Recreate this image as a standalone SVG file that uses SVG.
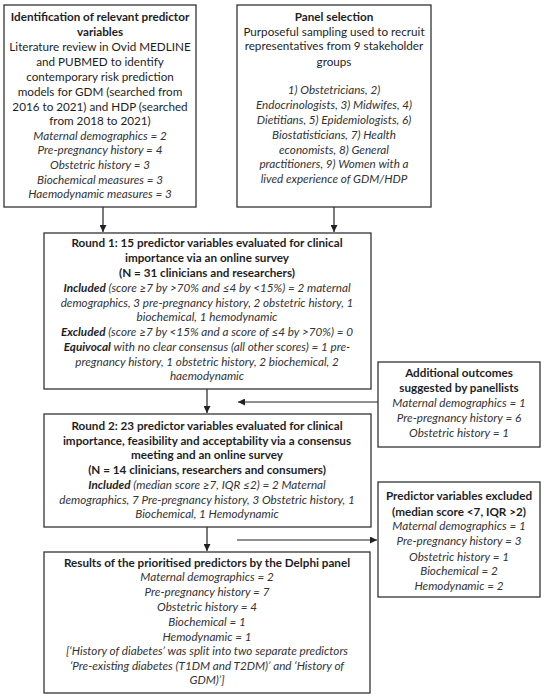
<svg xmlns="http://www.w3.org/2000/svg" width="550" height="700" viewBox="0 0 550 700">
<defs>
<style>
.box{fill:#fff;stroke:#333;stroke-width:1.3}
text{font-family:Lato,"Open Sans","Liberation Sans",sans-serif;font-size:11.7px;fill:#1e1e1e;text-anchor:middle}
.b{font-weight:bold}
.i{font-style:italic;fill:#333}
.bi{font-weight:bold;font-style:italic;fill:#1e1e1e}
.ln{stroke:#222;stroke-width:1.2;fill:none}
</style>
<marker id="ah" viewBox="0 0 8 8" refX="8" refY="4" markerWidth="7" markerHeight="7" markerUnits="userSpaceOnUse" orient="auto">
<path d="M0,0 L8,4 L0,8 z" fill="#222"/>
</marker>
</defs>
<rect width="550" height="700" fill="#fff"/>

<g id="connectors">
<line class="ln" x1="103" y1="207" x2="103" y2="232" marker-end="url(#ah)"/>
<line class="ln" x1="334" y1="207" x2="334" y2="232" marker-end="url(#ah)"/>
<line class="ln" x1="207" y1="389" x2="207" y2="413" marker-end="url(#ah)"/>
<line class="ln" x1="378" y1="402" x2="238" y2="402" marker-end="url(#ah)"/>
<line class="ln" x1="207" y1="527" x2="207" y2="551" marker-end="url(#ah)"/>
<line class="ln" x1="237" y1="540" x2="377" y2="540" marker-end="url(#ah)"/>
</g>

<g id="identification">
<rect class="box" x="4" y="5" width="192" height="202"/>
<text x="100" y="21" class="b">Identification of relevant predictor</text>
<text x="100" y="36" class="b">variables</text>
<text x="100" y="51">Literature review in Ovid MEDLINE</text>
<text x="100" y="66">and PUBMED to identify</text>
<text x="100" y="81">contemporary risk prediction</text>
<text x="100" y="96">models for GDM (searched from</text>
<text x="100" y="111">2016 to 2021) and HDP (searched</text>
<text x="100" y="125">from 2018 to 2021)</text>
<text x="100" y="140" class="i">Maternal demographics = 2</text>
<text x="100" y="154" class="i">Pre-pregnancy history = 4</text>
<text x="100" y="169" class="i">Obstetric history = 3</text>
<text x="100" y="184" class="i">Biochemical measures = 3</text>
<text x="100" y="198" class="i">Haemodynamic measures = 3</text>
</g>

<g id="panel">
<rect class="box" x="237" y="5" width="194" height="202"/>
<text x="334" y="21" class="b">Panel selection</text>
<text x="334" y="36">Purposeful sampling used to recruit</text>
<text x="334" y="50">representatives from 9 stakeholder</text>
<text x="334" y="66">groups</text>
<text x="334" y="94" class="i">1) Obstetricians, 2)</text>
<text x="334" y="109" class="i">Endocrinologists, 3) Midwifes, 4)</text>
<text x="334" y="124" class="i">Dietitians, 5) Epidemiologists, 6)</text>
<text x="334" y="139" class="i">Biostatisticians, 7) Health</text>
<text x="334" y="154" class="i">economists, 8) General</text>
<text x="334" y="168" class="i">practitioners, 9) Women with a</text>
<text x="334" y="183" class="i">lived experience of GDM/HDP</text>
</g>

<g id="round1">
<rect class="box" x="44" y="233" width="327" height="156"/>
<text x="207" y="247" class="b">Round 1: 15 predictor variables evaluated for clinical</text>
<text x="207" y="262" class="b">importance via an online survey</text>
<text x="207" y="277" class="b">(N = 31 clinicians and researchers)</text>
<text x="207" y="292" class="i"><tspan class="bi">Included</tspan> (score ≥7 by &gt;70% and ≤4 by &lt;15%) = 2 maternal</text>
<text x="207" y="306.5" class="i">demographics, 3 pre-pregnancy history, 2 obstetric history, 1</text>
<text x="207" y="321" class="i">biochemical, 1 hemodynamic</text>
<text x="207" y="336" class="i"><tspan class="bi">Excluded</tspan> (score ≥7 by &lt;15% and a score of ≤4 by &gt;70%) = 0</text>
<text x="207" y="351" class="i"><tspan class="bi">Equivocal</tspan> with no clear consensus (all other scores) = 1 pre-</text>
<text x="207" y="365.5" class="i">pregnancy history, 1 obstetric history, 2 biochemical, 2</text>
<text x="207" y="380" class="i">haemodynamic</text>
</g>

<g id="additional">
<rect class="box" x="378" y="362" width="162" height="85"/>
<text x="459" y="377" class="b">Additional outcomes</text>
<text x="459" y="392" class="b">suggested by panellists</text>
<text x="459" y="407" class="i">Maternal demographics = 1</text>
<text x="459" y="422" class="i">Pre-pregnancy history = 6</text>
<text x="459" y="437" class="i">Obstetric history = 1</text>
</g>

<g id="round2">
<rect class="box" x="44" y="414" width="327" height="113"/>
<text x="207" y="430" class="b">Round 2: 23 predictor variables evaluated for clinical</text>
<text x="207" y="445" class="b">importance, feasibility and acceptability via a consensus</text>
<text x="207" y="459" class="b">meeting and an online survey</text>
<text x="207" y="474" class="b">(N = 14 clinicians, researchers and consumers)</text>
<text x="207" y="489" class="i"><tspan class="bi">Included</tspan> (median score ≥7, IQR ≤2) = 2 Maternal</text>
<text x="207" y="504" class="i">demographics, 7 Pre-pregnancy history, 3 Obstetric history, 1</text>
<text x="207" y="518" class="i">Biochemical, 1 Hemodynamic</text>
</g>

<g id="excluded">
<rect class="box" x="378" y="482" width="162" height="115"/>
<text x="459" y="500" class="b">Predictor variables excluded</text>
<text x="459" y="516" class="b">(median score &lt;7, IQR &gt;2)</text>
<text x="459" y="530" class="i">Maternal demographics = 1</text>
<text x="459" y="545" class="i">Pre-pregnancy history = 3</text>
<text x="459" y="560.5" class="i">Obstetric history = 1</text>
<text x="459" y="575" class="i">Biochemical = 2</text>
<text x="459" y="590" class="i">Hemodynamic = 2</text>
</g>

<g id="results">
<rect class="box" x="44" y="552" width="326" height="141"/>
<text x="207" y="567" class="b">Results of the prioritised predictors by the Delphi panel</text>
<text x="207" y="581" class="i">Maternal demographics = 2</text>
<text x="207" y="596" class="i">Pre-pregnancy history = 7</text>
<text x="207" y="611" class="i">Obstetric history = 4</text>
<text x="207" y="626" class="i">Biochemical = 1</text>
<text x="207" y="641" class="i">Hemodynamic = 1</text>
<text x="207" y="655" class="i">[‘History of diabetes’ was split into two separate predictors</text>
<text x="207" y="670" class="i">‘Pre-existing diabetes (T1DM and T2DM)’ and ‘History of</text>
<text x="207" y="684" class="i">GDM)’]</text>
</g>
</svg>
